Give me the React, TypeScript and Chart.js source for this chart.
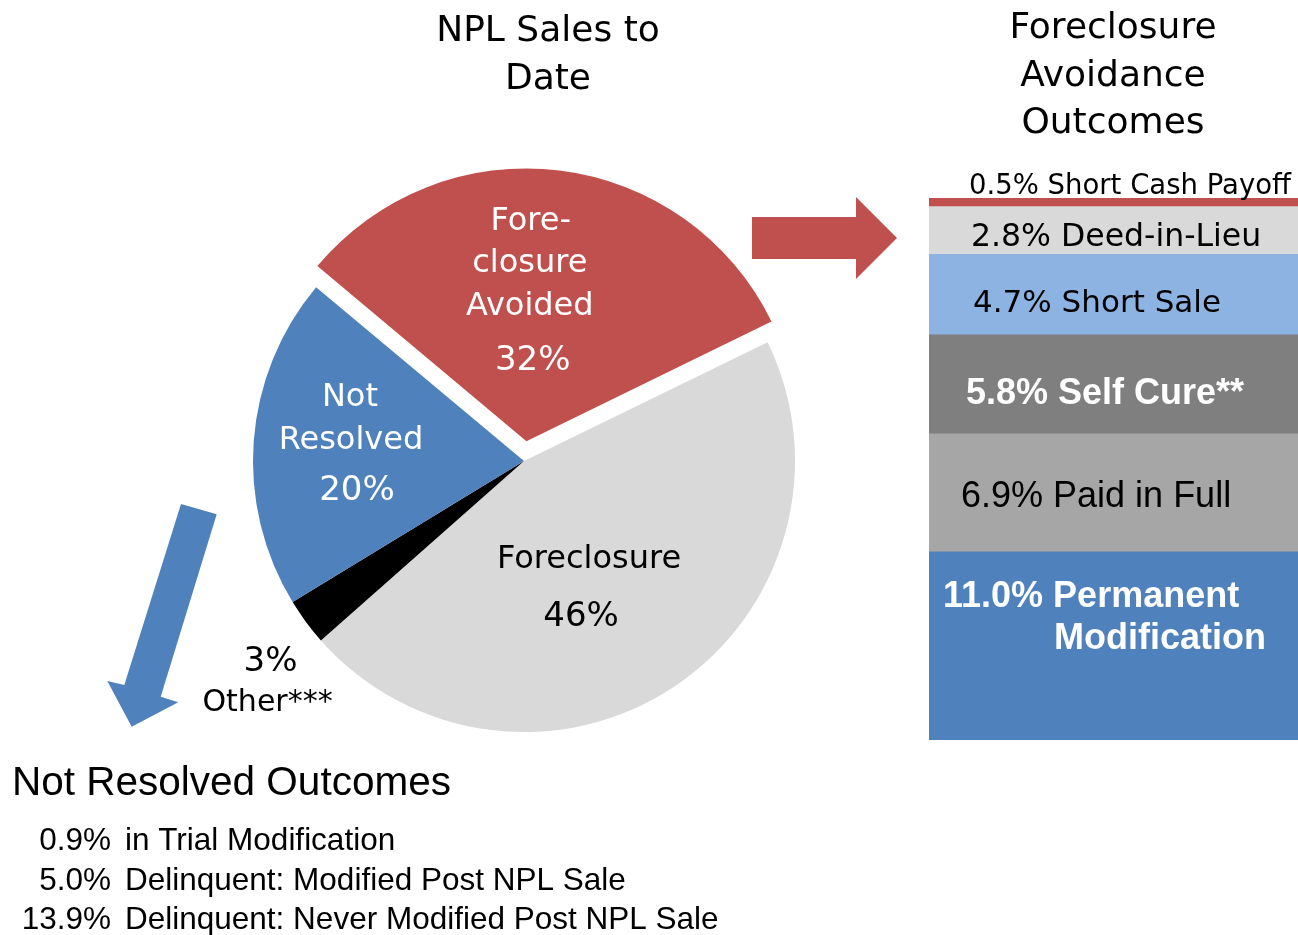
import React, { useEffect, useRef } from 'react';
import { Chart, registerables } from 'chart.js';

Chart.register(...registerables);

// ---------------- data ----------------
const pieCategories = ['Foreclosure Avoided', 'Foreclosure', 'Other***', 'Not Resolved'];
const pieValues = [31.7, 45.7, 2.8, 19.8];
const pieColors = ['#C0504D', '#D9D9D9', '#000000', '#4F81BD'];
// Chart.js 4 translates an arc by offset / 4 pixels
const pieOffsets = [80, 0, 0, 0];
// '{p}' is replaced by the rounded slice percentage
const pieLabelLines = [
  ['Fore-', 'closure', 'Avoided', '{p}'],
  ['Foreclosure', '{p}'],
  ['{p}', 'Other***'],
  ['Not', 'Resolved', '{p}'],
];

const avoidanceCategories = ['Permanent Modification', 'Paid in Full', 'Self Cure**', 'Short Sale', 'Deed-in-Lieu', 'Short Cash Payoff'];
const avoidanceValues = [11.0, 6.9, 5.8, 4.7, 2.8, 0.5];
const avoidanceColors = ['#4F81BD', '#A6A6A6', '#7F7F7F', '#8DB3E2', '#D9D9D9', '#C0504D'];
const avoidanceLabelLines = [
  ['Permanent', 'Modification'],
  ['Paid in Full'],
  ['Self Cure**'],
  ['Short Sale'],
  ['Deed-in-Lieu'],
  ['Short Cash Payoff'],
];

const notResolvedCategories = ['in Trial Modification', 'Delinquent: Modified Post NPL Sale', 'Delinquent: Never Modified Post NPL Sale'];
const notResolvedValues = [0.9, 5.0, 13.9];

const pieTitleLines = ['NPL Sales to', 'Date'];
const barTitleLines = ['Foreclosure', 'Avoidance', 'Outcomes'];
const notResolvedTitle = 'Not Resolved Outcomes';

// ---------------- layout / style ----------------
const W = 1298;
const H = 935;
const PIE_CX = 524;
const PIE_CY = 461;
const PIE_R = 271;

const DJ = '"DejaVu Sans", sans-serif';
const LIB = '"Liberation Sans", Arial, sans-serif';

const pieLabelStyle = [
  { color: '#FFFFFF', frac: 0.631, adj: -4.7, dx: [0, -1, -1, 2], dy: [-60, -18, 25, 80] },
  { color: '#000000', frac: 0.51, adj: 7.5, dx: [4, -4], dy: [-17, 41] },
  { color: '#000000', frac: 1.238, adj: -4.0, dx: [2, -1], dy: [-8, 32] },
  { color: '#FFFFFF', frac: 0.635, adj: 1.95, dx: [-3, -2, 4], dy: [-36, 7, 58] },
];

const barLabelStyle = [
  { color: '#FFFFFF', font: 'bold 36px ' + LIB, dx: [14, 125], dy: [-39, 3] },
  { color: '#000000', font: '36px ' + LIB, dx: [32], dy: [14] },
  { color: '#FFFFFF', font: 'bold 36px ' + LIB, dx: [37], dy: [20] },
  { color: '#000000', font: '31px ' + DJ, dx: [44], dy: [17.5] },
  { color: '#000000', font: '31.5px ' + DJ, dx: [42], dy: [15.5] },
  { color: '#000000', font: '27.5px ' + DJ, dx: [40], dy: [-8] },
];

const fmt1 = (v: number) => v.toFixed(1) + '%';

const pieLabelPlugin = {
  id: 'pieLabels',
  afterDatasetsDraw(chart: any) {
    const ctx = chart.ctx;
    const meta = chart.getDatasetMeta(0);
    ctx.save();
    ctx.textAlign = 'center';
    ctx.textBaseline = 'alphabetic';
    meta.data.forEach((arc: any, i: number) => {
      const st = pieLabelStyle[i];
      const mid = (arc.startAngle + arc.endAngle) / 2 + (st.adj * Math.PI) / 180;
      const d = st.frac * arc.outerRadius;
      const ax = arc.x + d * Math.cos(mid);
      const ay = arc.y + d * Math.sin(mid);
      ctx.fillStyle = st.color;
      pieLabelLines[i].forEach((ln, j) => {
        const isPct = ln === '{p}';
        const text = isPct ? Math.round(pieValues[i]) + '%' : ln;
        let size = isPct ? 34 : 32;
        if (ln === 'Other***') size = 30;
        ctx.font = `${size}px ${DJ}`;
        ctx.fillText(text, ax + st.dx[j], ay + st.dy[j]);
      });
    });
    ctx.restore();
  },
};

function poly(ctx: CanvasRenderingContext2D, pts: number[][], color: string) {
  ctx.beginPath();
  ctx.moveTo(pts[0][0], pts[0][1]);
  for (let k = 1; k < pts.length; k++) ctx.lineTo(pts[k][0], pts[k][1]);
  ctx.closePath();
  ctx.fillStyle = color;
  ctx.fill();
}

const decorPlugin = {
  id: 'decor',
  afterDraw(chart: any) {
    const ctx: CanvasRenderingContext2D = chart.ctx;
    ctx.save();
    // titles
    ctx.fillStyle = '#000000';
    ctx.textAlign = 'center';
    ctx.textBaseline = 'alphabetic';
    ctx.font = `36px ${DJ}`;
    pieTitleLines.forEach((t, i) => ctx.fillText(t, 548, 41 + i * 47.5));
    barTitleLines.forEach((t, i) => ctx.fillText(t, 1113, 38 + i * 47.5));

    // arrows
    poly(ctx, [[752, 217], [856, 217], [856, 197], [897, 238], [856, 279], [856, 259], [752, 259]], '#C0504D');
    poly(ctx, [[181, 504], [216.7, 514.3], [160.7, 696.7], [178.3, 702.3], [131.7, 726.7], [107.3, 681], [124.3, 685]], '#4F81BD');

    // not resolved outcomes
    ctx.fillStyle = '#000000';
    ctx.textAlign = 'left';
    ctx.font = `40.5px ${LIB}`;
    ctx.fillText(notResolvedTitle, 12, 795);
    ctx.font = `31.5px ${LIB}`;
    notResolvedValues.forEach((v, i) => {
      const y = 850 + i * 39.5;
      ctx.textAlign = 'right';
      ctx.fillText(fmt1(v), 111, y);
      ctx.textAlign = 'left';
      ctx.fillText(notResolvedCategories[i], 125, y);
    });
    ctx.restore();
  },
};

const barLabelPlugin = {
  id: 'barLabels',
  afterDatasetsDraw(chart: any) {
    const ctx: CanvasRenderingContext2D = chart.ctx;
    ctx.save();
    ctx.textAlign = 'left';
    ctx.textBaseline = 'alphabetic';
    chart.data.datasets.forEach((_ds: any, i: number) => {
      const bar: any = chart.getDatasetMeta(i).data[0];
      const st = barLabelStyle[i];
      const left = bar.x - bar.width / 2;
      const cy = (bar.y + bar.base) / 2;
      ctx.fillStyle = st.color;
      ctx.font = st.font;
      avoidanceLabelLines[i].forEach((ln, j) => {
        const text = j === 0 ? fmt1(avoidanceValues[i]) + ' ' + ln : ln;
        ctx.fillText(text, left + st.dx[j], cy + st.dy[j]);
      });
    });
    ctx.restore();
  },
};

// bar canvas placement
const BAR_LEFT = 900;
const BAR_TOP = 150;
const BAR_W = 398;
const BAR_H = 600;

export default function App() {
  const pieRef = useRef<HTMLCanvasElement | null>(null);
  const barRef = useRef<HTMLCanvasElement | null>(null);

  useEffect(() => {
    if (!pieRef.current || !barRef.current) return;
    const pie = new Chart(pieRef.current, {
      type: 'pie',
      data: {
        labels: pieCategories,
        datasets: [
          {
            data: pieValues,
            backgroundColor: pieColors,
            borderWidth: 0,
            offset: pieOffsets,
            hoverOffset: 0,
          } as any,
        ],
      },
      options: {
        responsive: false,
        animation: false,
        events: [],
        rotation: -50.1,
        radius: PIE_R,
        layout: { padding: { left: 0, top: 0, right: W - 2 * PIE_CX, bottom: H - 2 * PIE_CY } },
        plugins: { legend: { display: false }, tooltip: { enabled: false } },
      } as any,
      plugins: [pieLabelPlugin, decorPlugin],
    });

    const total = avoidanceValues.reduce((a, b) => a + b, 0);
    const bar = new Chart(barRef.current, {
      type: 'bar',
      data: {
        labels: ['Foreclosure Avoidance Outcomes'],
        datasets: avoidanceCategories.map((c, i) => ({
          label: c,
          data: [avoidanceValues[i]],
          backgroundColor: avoidanceColors[i],
          borderWidth: 0,
          barPercentage: 1,
          categoryPercentage: 1,
          stack: 'avoid',
        })),
      },
      options: {
        responsive: false,
        animation: false,
        events: [],
        layout: { padding: { left: 1298 - 369 - BAR_LEFT, top: 198 - BAR_TOP, right: 0, bottom: BAR_TOP + BAR_H - 740 } },
        scales: {
          x: { stacked: true, display: false },
          y: { stacked: true, display: false, min: 0, max: total },
        },
        plugins: { legend: { display: false }, tooltip: { enabled: false } },
      } as any,
      plugins: [barLabelPlugin],
    });

    return () => {
      pie.destroy();
      bar.destroy();
    };
  }, []);

  return (
    <div style={{ position: 'absolute', left: 0, top: 0, width: W, height: H, background: '#FFFFFF' }}>
      <canvas ref={pieRef} width={W} height={H} style={{ position: 'absolute', left: 0, top: 0, width: W, height: H }} />
      <canvas
        ref={barRef}
        width={BAR_W}
        height={BAR_H}
        style={{ position: 'absolute', left: BAR_LEFT, top: BAR_TOP, width: BAR_W, height: BAR_H }}
      />
    </div>
  );
}
